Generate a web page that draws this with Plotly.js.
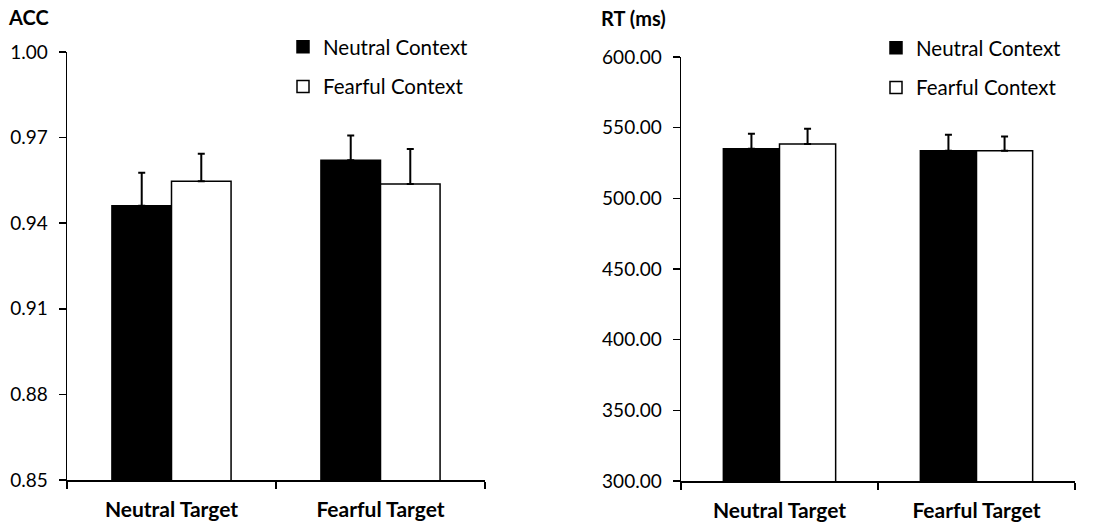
<!DOCTYPE html>
<html>
<head>
<meta charset="utf-8">
<script src="https://cdn.plot.ly/plotly-3.0.1.min.js"></script>
<style>html,body{margin:0;padding:0;background:#fff;}#chart{width:1100px;height:529px;}</style>
</head>
<body>
<div id="chart"></div>
<script>
// Categories and series
const targets = ["Neutral Target", "Fearful Target"];
const seriesNames = ["Neutral Context", "Fearful Context"];

// ACC (left panel)
const accNeutralCtx = [0.9461, 0.9621];
const accNeutralCtxErr = [0.0116, 0.0086];
const accFearfulCtx = [0.9547, 0.9537];
const accFearfulCtxErr = [0.0096, 0.0123];
const accTicks = [0.85, 0.88, 0.91, 0.94, 0.97, 1.00];

// RT (right panel)
const rtNeutralCtx = [535.1, 533.7];
const rtNeutralCtxErr = [10.6, 11.3];
const rtFearfulCtx = [538.4, 533.7];
const rtFearfulCtxErr = [10.9, 10.1];
const rtTicks = [300, 350, 400, 450, 500, 550, 600];

const FONT = "Lato, 'Open Sans', sans-serif";

function barTrace(name, y, err, fill, xa, ya, leg, grp) {
  return {
    type: "bar", name: name, x: targets, y: y,
    xaxis: xa, yaxis: ya, legend: leg, legendgroup: grp,
    marker: {color: fill, line: {color: "#000", width: 1.5}},
    error_y: {type: "data", array: err, arrayminus: err.map(() => 0), symmetric: false,
              color: "#000", thickness: 2, width: 3.5},
    hoverinfo: "skip"
  };
}

const data = [
  barTrace(seriesNames[0], accNeutralCtx, accNeutralCtxErr, "#000", "x", "y", "legend", "a1"),
  barTrace(seriesNames[1], accFearfulCtx, accFearfulCtxErr, "#fff", "x", "y", "legend", "a2"),
  barTrace(seriesNames[0], rtNeutralCtx, rtNeutralCtxErr, "#000", "x2", "y2", "legend2", "b1"),
  barTrace(seriesNames[1], rtFearfulCtx, rtFearfulCtxErr, "#fff", "x2", "y2", "legend2", "b2")
];

const W = 1100, H = 529;
const xAxisCommon = {
  type: "category", showline: true, linecolor: "#000", linewidth: 1.5,
  ticks: "outside", tickson: "boundaries", ticklen: 7, tickcolor: "#000", tickwidth: 1.5,
  tickfont: {family: FONT, size: 21, color: "#000", weight: "bold"},
  ticklabelstandoff: 10,
  showgrid: false, zeroline: false, range: [-0.5, 1.5], fixedrange: true
};
const yAxisCommon = {
  showline: true, linecolor: "#000", linewidth: 1.5,
  ticks: "outside", ticklen: 7, tickcolor: "#000", tickwidth: 1.5,
  tickfont: {family: FONT, size: 19, color: "#000"},
  ticklabelstandoff: 7,
  showgrid: false, zeroline: false, tickformat: ".2f", tickmode: "array", fixedrange: true
};

const legendCommon = {
  font: {family: FONT, size: 20.5, color: "#000"},
  bgcolor: "rgba(0,0,0,0)", borderwidth: 0,
  xanchor: "left", yanchor: "top", tracegroupgap: 10, itemwidth: 30
};

const layout = {
  width: W, height: H,
  margin: {l: 0, r: 0, t: 0, b: 0},
  paper_bgcolor: "#fff", plot_bgcolor: "#fff",
  barmode: "group", bargap: 0.43, bargroupgap: 0,
  font: {family: FONT, color: "#000"},
  showlegend: true,
  xaxis: Object.assign({}, xAxisCommon, {domain: [67 / W, 485 / W], anchor: "y"}),
  yaxis: Object.assign({}, yAxisCommon, {domain: [1 - 480 / H, 1 - 52 / H], anchor: "x",
    range: [0.85, 1.00], tickvals: accTicks}),
  xaxis2: Object.assign({}, xAxisCommon, {domain: [681 / W, 1075 / W], anchor: "y2"}),
  yaxis2: Object.assign({}, yAxisCommon, {domain: [1 - 481 / H, 1 - 57 / H], anchor: "x2",
    range: [300, 600], tickvals: rtTicks}),
  legend: Object.assign({}, legendCommon, {x: 283 / W, y: 1 - 27 / H}),
  legend2: Object.assign({}, legendCommon, {x: 876 / W, y: 1 - 28 / H}),
  annotations: [
    {text: "ACC", xref: "paper", yref: "paper", x: 6 / W, y: 1 - 17 / H, xanchor: "left", yanchor: "middle",
     showarrow: false, font: {family: FONT, size: 20, color: "#000", weight: "bold"}},
    {text: "RT (ms)", xref: "paper", yref: "paper", x: 599 / W, y: 1 - 18 / H, xanchor: "left", yanchor: "middle",
     showarrow: false, font: {family: FONT, size: 20, color: "#000", weight: "bold"}}
  ]
};

Plotly.newPlot("chart", data, layout, {displayModeBar: false, staticPlot: true});
</script>
</body>
</html>
